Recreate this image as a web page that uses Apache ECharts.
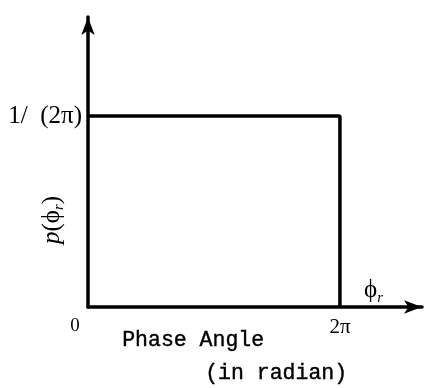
<!DOCTYPE html>
<html>
<head>
<meta charset="utf-8">
<script src="https://cdn.jsdelivr.net/npm/echarts@6/dist/echarts.min.js"></script>
<style>
  html, body { margin: 0; padding: 0; background: #fff; }
  #chart { width: 431px; height: 388px; }
</style>
</head>
<body>
<div id="chart"></div>
<script>
// Uniform probability density of the phase angle over [0, 2π]
const phaseAngle = [0, 6.2832, 6.2832];      // radians
const density = [0.15915, 0.15915, 0];       // p(ϕr) = 1/(2π) inside the interval

// Tick positions and their labels
const xTickValues = [0, 6.2832];
const xTickLabels = ['0', '2π'];
const yTickValues = [0.15915];
const yTickLabels = ['1/  (2π)'];

const xMax = 8.33;
const yMax = 0.2416;

const chart = echarts.init(document.getElementById('chart'), null, { renderer: 'canvas' });

const serif = '"Liberation Serif", "DejaVu Serif", serif';
const mono = '"Liberation Mono", "DejaVu Sans Mono", monospace';

const axisLineStyle = { color: '#000', width: 3.5 };

chart.setOption({
  animation: false,
  backgroundColor: '#fff',
  grid: { left: 88, right: 9, top: 17, bottom: 81 },
  xAxis: {
    type: 'value',
    min: 0,
    max: xMax,
    axisLine: {
      show: true,
      symbol: ['none', 'arrow'],
      symbolSize: [10, 18],
      lineStyle: axisLineStyle
    },
    axisTick: { show: false },
    splitLine: { show: false },
    axisLabel: {
      customValues: xTickValues,
      margin: 10,
      fontFamily: serif,
      fontSize: 21,
      color: '#000',
      formatter: function (v) {
        const i = xTickValues.indexOf(v);
        const t = i >= 0 ? xTickLabels[i] : '';
        return i === 0 ? '{o|' + t + '}' : t;
      },
      rich: { o: { fontFamily: serif, fontSize: 19, color: '#000', padding: [0, 26, 0, 0] } }
    }
  },
  yAxis: {
    type: 'value',
    min: 0,
    max: yMax,
    axisLine: {
      show: true,
      symbol: ['none', 'arrow'],
      symbolSize: [10, 18],
      lineStyle: axisLineStyle
    },
    axisTick: { show: false },
    splitLine: { show: false },
    axisLabel: {
      customValues: yTickValues,
      margin: 6,
      fontFamily: serif,
      fontSize: 25,
      color: '#000',
      formatter: function (v) {
        const i = yTickValues.indexOf(v);
        return i >= 0 ? yTickLabels[i] : '';
      }
    }
  },
  series: [{
    type: 'line',
    data: phaseAngle.map((x, i) => [x, density[i]]),
    showSymbol: false,
    lineStyle: { color: '#000', width: 3.5 },
    silent: true
  }],
  graphic: [
    {
      type: 'text',
      left: 122,
      top: 329,
      style: { text: 'Phase Angle', font: '21.5px ' + mono, fill: '#000', stroke: '#000', lineWidth: 0.4 }
    },
    {
      type: 'text',
      left: 205,
      top: 362,
      style: { text: '(in radian)', font: '21.5px ' + mono, fill: '#000', stroke: '#000', lineWidth: 0.4 }
    },
    {
      type: 'text',
      left: 364,
      top: 278,
      style: {
        text: '{f|ϕ}{s|r}',
        rich: {
          f: { fontFamily: serif, fontSize: 25, color: '#000', lineHeight: 30 },
          s: { fontFamily: serif, fontStyle: 'italic', fontSize: 15, color: '#000', lineHeight: 30, verticalAlign: 'bottom' }
        }
      }
    },
    {
      type: 'text',
      x: 52,
      y: 220,
      rotation: Math.PI / 2,
      style: {
        text: '{p|p}{f|(ϕ}{s|r}{f|)}',
        align: 'center',
        verticalAlign: 'middle',
        rich: {
          p: { fontFamily: serif, fontStyle: 'italic', fontSize: 25, color: '#000', lineHeight: 30 },
          f: { fontFamily: serif, fontSize: 25, color: '#000', lineHeight: 30 },
          s: { fontFamily: serif, fontStyle: 'italic', fontSize: 15, color: '#000', lineHeight: 30, verticalAlign: 'bottom' }
        }
      }
    }
  ]
});
</script>
</body>
</html>
